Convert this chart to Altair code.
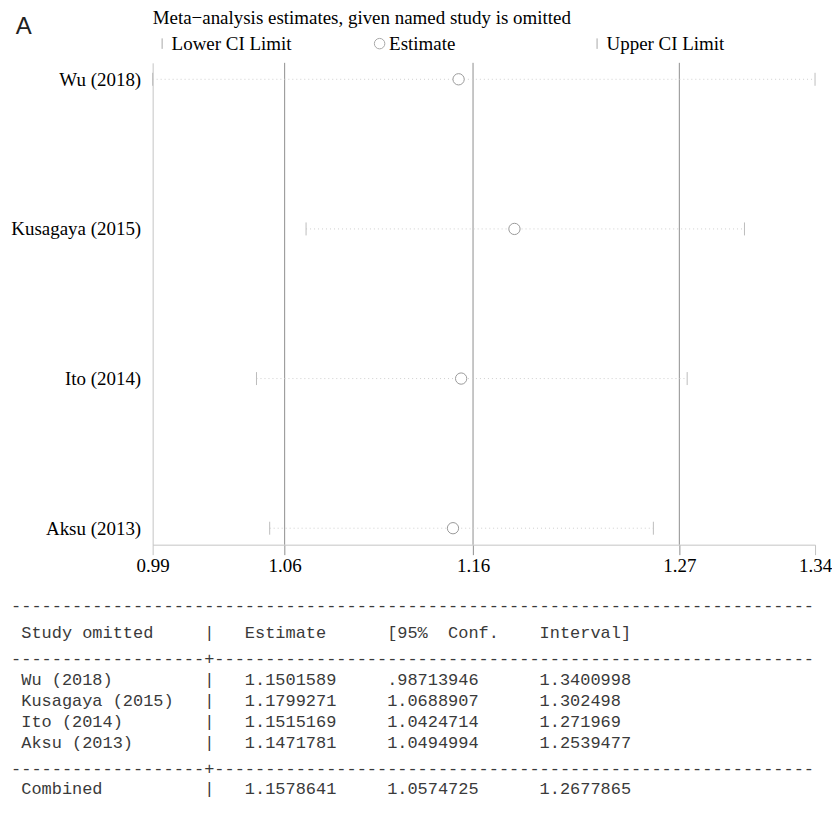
import altair as alt
import pandas as pd

# ---- data ----
studies = ["Wu (2018)", "Kusagaya (2015)", "Ito (2014)", "Aksu (2013)"]
estimates = [1.1501589, 1.1799271, 1.1515169, 1.1471781]
lower_ci = [0.98713946, 1.0688907, 1.0424714, 1.0494994]
upper_ci = [1.3400998, 1.302498, 1.271969, 1.2539477]
combined_label = "Combined"
combined_est = 1.1578641
combined_lower = 1.0574725
combined_upper = 1.2677865
legend_labels = ["Lower CI Limit", "Estimate", "Upper CI Limit"]
title_text = "Meta\u2212analysis estimates, given named study is omitted"
panel_label = "A"
table_header = ["Study omitted", "|", "Estimate", "[95%  Conf.    Interval]"]

SERIF = "Liberation Serif"
MONO = "Liberation Mono"
MONO_SIZE = 17
MONO_ADVANCE = 0.6001  # advance width of Liberation Mono, in em
PLOT_W, PLOT_H = 664, 483

# ---- long table for the markers ----
rows = []
for s, lo, e, hi in zip(studies, lower_ci, estimates, upper_ci):
    rows.append({"study": s, "kind": legend_labels[0], "value": lo})
    rows.append({"study": s, "kind": legend_labels[1], "value": e})
    rows.append({"study": s, "kind": legend_labels[2], "value": hi})
marks_df = pd.DataFrame(rows)
ci_df = pd.DataFrame({"study": studies, "lower": lower_ci, "upper": upper_ci})
ref_df = pd.DataFrame({"value": [combined_lower, combined_est, combined_upper]})

tick_vals = [min(lower_ci), combined_lower, combined_est, combined_upper, max(upper_ci)]
x_scale = alt.Scale(domain=[min(lower_ci), max(upper_ci)], nice=False, zero=False)
y_scale = alt.Scale(type="point", padding=0.11)

x_axis = alt.Axis(
    title=None, values=tick_vals, format=".2f", grid=False,
    tickSize=10, domainColor="#c4c4c4",
    tickColor={"condition": {"test": "datum.value > 1.0 && datum.value < 1.3", "value": "#8f8f8f"},
               "value": "#c4c4c4"},
    labelFont=SERIF, labelFontSize=19, labelColor="black", labelPadding=2,
    labelFlush=False,
)
y_axis = alt.Axis(
    title=None, ticks=False, grid=False, domainColor="#c4c4c4",
    labelFont=SERIF, labelFontSize=19, labelColor="black", labelPadding=12,
)

shape_scale = alt.Scale(domain=legend_labels, range=["M0,-1L0,1", "circle", "M0,-1L0,1"])
legend = alt.Legend(
    orient="top", direction="horizontal", columns=3, gridAlign="all", columnPadding=78,
    title=title_text, titleFont=SERIF, titleFontSize=19, titleFontWeight="normal",
    titleColor="black", titlePadding=6, titleAnchor="start", titleLimit=800,
    labelFont=SERIF, labelFontSize=19, labelColor="black", labelOffset=0, labelLimit=400,
    symbolSize=110, symbolStrokeColor="#a8a8a8", symbolStrokeWidth=1, symbolFillColor="white",
    offset=8, padding=0,
)

base = alt.Chart(marks_df)

ref_rules = alt.Chart(ref_df).mark_rule(color="#8f8f8f", strokeWidth=1).encode(
    x=alt.X("value:Q", scale=x_scale, axis=x_axis)
)
dotted = alt.Chart(ci_df).mark_rule(color="#cfcfcf", strokeWidth=1, strokeDash=[1, 3]).encode(
    x=alt.X("lower:Q", scale=x_scale),
    x2="upper:Q",
    y=alt.Y("study:N", sort=studies, scale=y_scale, axis=y_axis),
)
ci_marks = base.transform_filter(
    alt.FieldOneOfPredicate(field="kind", oneOf=[legend_labels[0], legend_labels[2]])
).mark_point(size=169, stroke="#bdbdbd", strokeWidth=1, opacity=1, filled=False).encode(
    x=alt.X("value:Q", scale=x_scale),
    y=alt.Y("study:N", sort=studies, scale=y_scale),
    shape=alt.Shape("kind:N", scale=shape_scale, legend=legend),
)
est_marks = base.transform_filter(
    alt.FieldEqualPredicate(field="kind", equal=legend_labels[1])
).mark_point(size=128, stroke="#9a9a9a", fill="white", strokeWidth=1, opacity=1).encode(
    x=alt.X("value:Q", scale=x_scale),
    y=alt.Y("study:N", sort=studies, scale=y_scale),
    shape=alt.Shape("kind:N", scale=shape_scale, legend=legend),
)

top = alt.layer(ref_rules, dotted, ci_marks, est_marks).properties(width=PLOT_W, height=PLOT_H)

# ---- text table (Stata style output) ----
LINE_W = 79
COLS = [1, 19, 23, 37]
COL_HI = 52
BAR_COL = 19


def place(parts):
    line = ""
    for col, text in parts:
        line = line.ljust(col) + text
    return line


def fmt(v):
    s = f"{v}"
    return s[1:] if s.startswith("0.") else s


full_sep = "-" * LINE_W
plus_sep = "-" * BAR_COL + "+" + "-" * (LINE_W - BAR_COL - 1)

lines, kinds = [], []
lines.append(full_sep); kinds.append("sep")
lines.append(place(list(zip(COLS, table_header)))); kinds.append("header")
lines.append(plus_sep); kinds.append("sep")
for s, e, lo, hi in zip(studies, estimates, lower_ci, upper_ci):
    lines.append(place([(COLS[0], s), (COLS[1], "|"), (COLS[2], fmt(e)), (COLS[3], fmt(lo)), (COL_HI, fmt(hi))]))
    kinds.append("row")
lines.append(plus_sep); kinds.append("sep")
lines.append(place([(COLS[0], combined_label), (COLS[1], "|"), (COLS[2], fmt(combined_est)),
                    (COLS[3], fmt(combined_lower)), (COL_HI, fmt(combined_upper))]))
kinds.append("row")

pos, y, prev = [], 0.0, None
for k in kinds:
    if prev is not None:
        y += 1.0
        if prev == "sep" and k != "row":
            y += 0.3
        elif k == "sep":
            y += 0.24
    pos.append(y)
    prev = k

# the table block ends at the right end of the plot's x range (anchor = 1);
# each line starts one full table width (LINE_W characters) to the left of it.
# A zero-width space in front keeps the leading blank column from being stripped.
table_df = pd.DataFrame({
    "line": ["\u200b" + l.replace(" ", "\u00a0") for l in lines],
    "pos": pos,
    "anchor": [1] * len(lines),
})
LINE_PX = 21
y_dom = [-0.5, max(pos) + 0.6]
table_dx = -LINE_W * MONO_ADVANCE * MONO_SIZE

table = alt.Chart(table_df).mark_text(
    align="left", baseline="middle", font=MONO, fontSize=MONO_SIZE, color="#3a3a3a", dx=table_dx
).encode(
    x=alt.X("anchor:Q", axis=None, scale=alt.Scale(domain=[0, 1], nice=False, zero=False)),
    y=alt.Y("pos:Q", axis=None, scale=alt.Scale(domain=y_dom, nice=False, zero=False, reverse=True)),
    text="line:N",
).properties(width=PLOT_W, height=round((y_dom[1] - y_dom[0]) * LINE_PX))

chart = alt.vconcat(top, table, spacing=20).properties(
    padding={"left": 2, "top": 0, "right": 0, "bottom": 2}, background="white",
    title=alt.TitleParams(panel_label, anchor="start", frame="bounds", font="Liberation Sans",
                          fontSize=24, fontWeight="normal", color="#222222", offset=-30, dx=5),
).configure_view(strokeWidth=0)

chart.save("out.html", embed_options={"renderer": "svg", "actions": False})
